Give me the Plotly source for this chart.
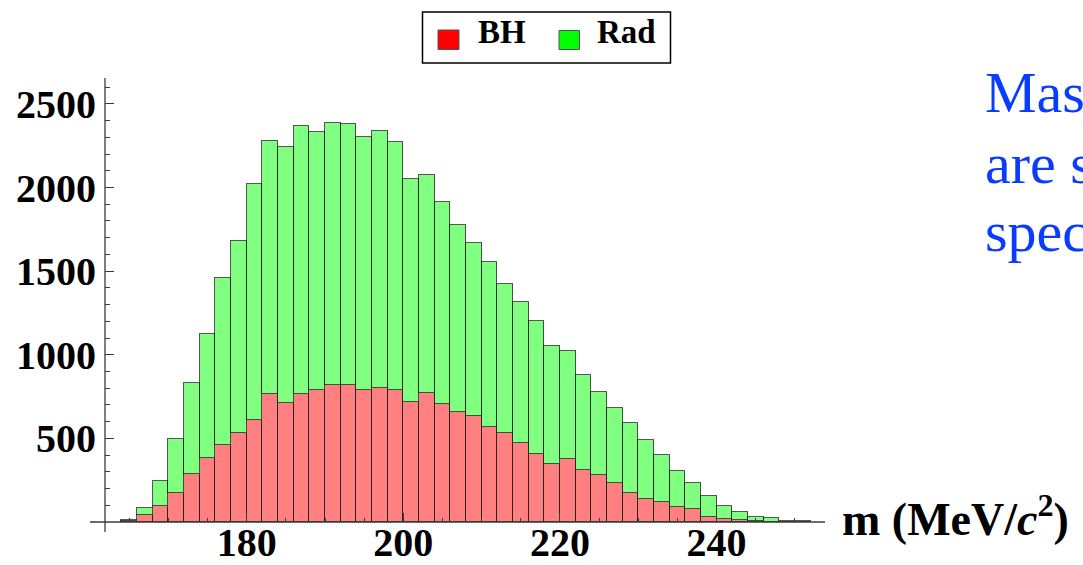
import plotly.graph_objects as go

# Invariant-mass histogram, 2 MeV/c^2 bins (bin centres)
mass_bins = [165, 167, 169, 171, 173, 175, 177, 179, 181, 183, 185, 187, 189, 191, 193,
             195, 197, 199, 201, 203, 205, 207, 209, 211, 213, 215, 217, 219, 221, 223,
             225, 227, 229, 231, 233, 235, 237, 239, 241, 243, 245, 247, 249, 251]

# Bethe-Heitler events per bin
bh_counts = [5, 40, 98, 175, 289, 383, 458, 534, 612, 765, 712, 765, 789, 817, 817,
             788, 803, 788, 720, 773, 704, 658, 634, 566, 534, 474, 407, 345, 375, 313,
             282, 235, 175, 136, 121, 90, 76, 27, 19, 13, 6, 3, 2, 1]

# Radiative events per bin (stacked on top of BH)
rad_counts = [7, 45, 147, 321, 544, 741, 1001, 1148, 1407, 1515, 1531, 1605, 1543, 1569, 1563,
              1514, 1537, 1484, 1331, 1300, 1208, 1116, 1033, 987, 889, 843, 795, 709, 649, 566,
              497, 445, 419, 353, 278, 215, 159, 130, 77, 48, 25, 20, 4, 4]

x_ticks = [180, 200, 220, 240]
y_ticks = [500, 1000, 1500, 2000, 2500]

W_FIG, H_FIG = 1083, 565
L, R, T, B = 105, 825, 78, 522          # plot-area edges in pixels
PW, PH = R - L, B - T


def px(xp):
    return (xp - L) / PW


def py(yp):
    return (B - yp) / PH


SERIF = "Liberation Serif"
EDGE = "rgba(30,30,30,0.75)"
AXIS = "#3a3a3a"

fig = go.Figure()
fig.add_trace(go.Bar(x=mass_bins, y=bh_counts, width=2, name="BH",
                     marker=dict(color="#ff8080", line=dict(color=EDGE, width=1))))
fig.add_trace(go.Bar(x=mass_bins, y=rad_counts, width=2, name="Rad",
                     marker=dict(color="#80ff80", line=dict(color=EDGE, width=1))))

tick_font = dict(family=SERIF, size=40, color="black", weight="bold")

fig.update_layout(
    width=W_FIG, height=H_FIG,
    margin=dict(l=L, r=W_FIG - R, t=T, b=H_FIG - B, pad=0, autoexpand=False),
    paper_bgcolor="white", plot_bgcolor="white",
    barmode="stack", bargap=0, showlegend=False,
    xaxis=dict(range=[161.9, 253.85], showgrid=False, zeroline=False, showline=False,
               automargin=False,
               tickmode="array", tickvals=x_ticks, ticktext=[str(v) for v in x_ticks],
               ticks="inside", ticklen=9, tickwidth=1, tickcolor=AXIS,
               tickfont=tick_font, ticklabelstandoff=-7,
               minor=dict(tickmode="linear", tick0=0, dtick=5, ticks="inside",
                          ticklen=4, tickwidth=1, tickcolor=AXIS, showgrid=False)),
    yaxis=dict(range=[0, 2655], showgrid=False, zeroline=False, showline=False,
               automargin=False,
               tickmode="array", tickvals=y_ticks, ticktext=[str(v) for v in y_ticks],
               ticks="inside", ticklen=9, tickwidth=1, tickcolor=AXIS,
               tickfont=tick_font, ticklabelstandoff=8,
               minor=dict(tickmode="linear", tick0=0, dtick=100, ticks="inside",
                          ticklen=5, tickwidth=1, tickcolor=AXIS, showgrid=False)),
)

# axis lines crossing at the origin corner
fig.add_shape(type="line", xref="paper", yref="paper", x0=px(90), x1=1, y0=0, y1=0,
              line=dict(color=AXIS, width=1.3))
fig.add_shape(type="line", xref="paper", yref="paper", x0=0, x1=0, y0=py(532), y1=1,
              line=dict(color=AXIS, width=1.3))

# legend box with swatches
fig.add_shape(type="rect", xref="paper", yref="paper",
              x0=px(422.5), x1=px(670.5), y0=py(63), y1=py(12),
              line=dict(color="black", width=1.5), fillcolor="white")
fig.add_shape(type="rect", xref="paper", yref="paper",
              x0=px(438), x1=px(459), y0=py(49.5), y1=py(30),
              line=dict(color="#555555", width=1), fillcolor="#ff0000")
fig.add_shape(type="rect", xref="paper", yref="paper",
              x0=px(559), x1=px(579.5), y0=py(49.5), y1=py(30.5),
              line=dict(color="#555555", width=1), fillcolor="#00ff00")

legend_font = dict(family=SERIF, size=33, color="black", weight="bold")
for label, xl in (("BH", 476), ("Rad", 595)):
    fig.add_annotation(text=label, xref="paper", yref="paper", x=px(xl), y=py(32),
                       xanchor="left", yanchor="middle", showarrow=False, font=legend_font)

# axis title at the right end of the mass axis
fig.add_annotation(text="m (MeV/<i>c</i><sup>2</sup>)", xref="paper", yref="paper",
                   x=px(840), y=py(516), xanchor="left", yanchor="middle", showarrow=False,
                   font=dict(family=SERIF, size=46, color="black", weight="bold"))

# side caption
side_font = dict(family=SERIF, size=58, color="#0a3cff")
for line, yc in (("Mas", 92), ("are s", 163), ("spec", 231)):
    fig.add_annotation(text=line, xref="paper", yref="paper", x=px(983), y=py(yc),
                       xanchor="left", yanchor="middle", showarrow=False, font=side_font)

fig.write_html("out.html")
